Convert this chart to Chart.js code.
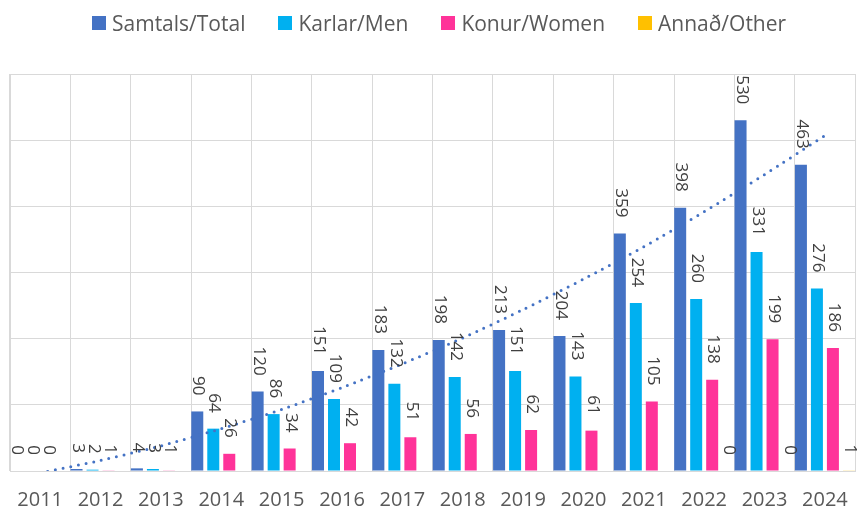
<!DOCTYPE html>
<html lang="is">
<head>
<meta charset="utf-8">
<title>Samtals / Karlar / Konur / Annað</title>
<script src="https://cdn.jsdelivr.net/npm/chart.js@4.4.1/dist/chart.umd.min.js"></script>
<style>
    html, body { margin: 0; padding: 0; background: #fff; }
    #wrap { position: relative; width: 865px; height: 513px; }
    #legend {
        position: absolute; left: 92px; top: 9px; height: 28px;
        display: flex; align-items: center;
        font-family: 'Open Sans', sans-serif; font-size: 21px; color: #595959;
    }
    .legend-item { display: flex; align-items: center; margin-right: 33px; white-space: nowrap; }
    .legend-box { width: 14px; height: 14px; margin-right: 6px; }
</style>
</head>
<body>
<div id="wrap">
    <div id="legend"></div>
    <canvas id="chart"></canvas>
</div>
<script>
// Ár (categories)
const years = ['2011', '2012', '2013', '2014', '2015', '2016', '2017',
               '2018', '2019', '2020', '2021', '2022', '2023', '2024'];

// Series values
const totalValues = [0, 3, 4, 90, 120, 151, 183, 198, 213, 204, 359, 398, 530, 463];
const menValues   = [0, 2, 3, 64, 86, 109, 132, 142, 151, 143, 254, 260, 331, 276];
const womenValues = [0, 1, 1, 26, 34, 42, 51, 56, 62, 61, 105, 138, 199, 186];
const otherValues = [null, null, null, null, null, null, null, null, null, null, null, 0, 0, 1];

// Dotted trend line over Samtals at each year
const trendValues = [-3, 16, 38, 64, 93, 126, 162, 201, 244, 290, 339, 392, 448, 507];

const seriesNames = ['Samtals/Total', 'Karlar/Men', 'Konur/Women', 'Annað/Other'];
const seriesColors = ['#4472C4', '#00B0F0', '#FF3399', '#FFC000'];

const FONT = "'Open Sans', sans-serif";

// Rotated value labels above each bar (text reads top to bottom)
const barLabels = {
    id: 'barLabels',
    afterDatasetsDraw(chart) {
        const ctx = chart.ctx;
        ctx.save();
        ctx.font = '17px ' + FONT;
        ctx.fillStyle = '#404040';
        ctx.textAlign = 'right';
        ctx.textBaseline = 'middle';
        chart.data.datasets.forEach((ds, i) => {
            if (ds.type === 'line') return;
            const meta = chart.getDatasetMeta(i);
            meta.data.forEach((bar, j) => {
                const v = ds.data[j];
                if (v === null || v === undefined) return;
                ctx.save();
                ctx.translate(bar.x + 1, bar.y - 16);
                ctx.rotate(Math.PI / 2);
                ctx.fillText(String(v), 0, 0);
                ctx.restore();
            });
        });
        ctx.restore();
    }
};

const barSeries = [totalValues, menValues, womenValues, otherValues].map((values, i) => ({
    label: seriesNames[i],
    data: values,
    backgroundColor: seriesColors[i],
    barPercentage: 0.75,
    categoryPercentage: 1.06,
    order: 1
}));

const trendSeries = {
    type: 'line',
    label: 'Trend',
    data: trendValues,
    borderColor: '#4472C4',
    borderWidth: 3,
    borderDash: [0, 7.8],
    borderCapStyle: 'round',
    pointRadius: 0,
    tension: 0.2,
    fill: false,
    order: 0
};

const chart = new Chart(document.getElementById('chart'), {
    type: 'bar',
    data: {
        labels: years,
        datasets: [...barSeries, trendSeries]
    },
    options: {
        responsive: true,
        maintainAspectRatio: false,
        animation: false,
        layout: { padding: { top: 74, left: 10, right: 6, bottom: -16 } },
        plugins: {
            legend: { display: false },
            tooltip: { enabled: false }
        },
        scales: {
            x: {
                grid: { color: '#d9d9d9', drawTicks: false, offset: true },
                border: { color: '#d9d9d9', width: 1 },
                ticks: { color: '#595959', font: { size: 20, family: FONT }, padding: 17 }
            },
            y: {
                min: 0,
                max: 600,
                ticks: { stepSize: 100, display: false },
                grid: { color: '#d9d9d9', drawTicks: false },
                border: { color: '#d9d9d9', width: 1 }
            }
        }
    },
    plugins: [barLabels]
});

// HTML legend built from the bar datasets
const legendEl = document.getElementById('legend');
barSeries.forEach(ds => {
    const item = document.createElement('span');
    item.className = 'legend-item';
    const box = document.createElement('span');
    box.className = 'legend-box';
    box.style.background = ds.backgroundColor;
    item.appendChild(box);
    item.appendChild(document.createTextNode(ds.label));
    legendEl.appendChild(item);
});
</script>
</body>
</html>
